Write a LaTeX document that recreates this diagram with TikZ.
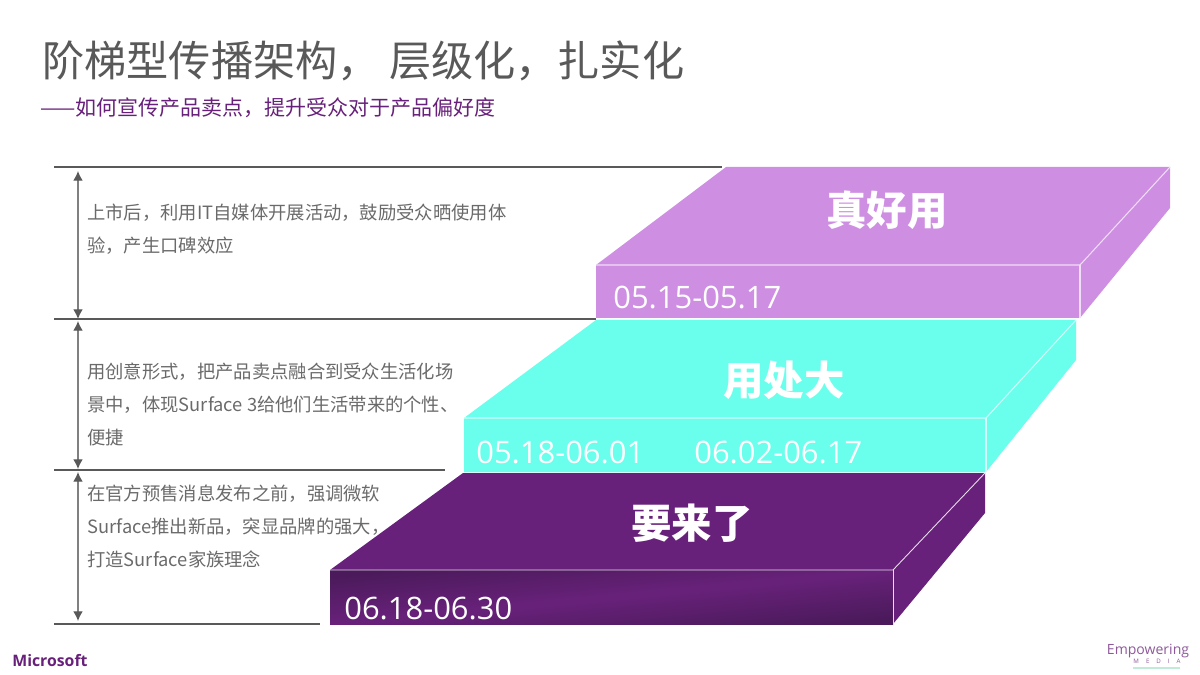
\documentclass[tikz,border=0pt]{standalone}
\usepackage{fontspec}
\setmainfont{Noto Sans CJK SC}
\newfontfamily\latinfont{Open Sans}
\usetikzlibrary{positioning}
\usetikzlibrary{arrows.meta}
\definecolor{slabtop}{HTML}{CE8FE2}
\definecolor{slabmid}{HTML}{6AFFEC}
\definecolor{slablow}{HTML}{68217A}
\definecolor{slabdark}{HTML}{4A1A5A}
\definecolor{textgray}{HTML}{6A6A6A}
\definecolor{rulegray}{HTML}{595959}
\definecolor{logogreen}{HTML}{BFEBD8}
\tikzset{
    facetop/.style={fill=slabtop},
    facemid/.style={fill=slabmid},
    facelow/.style={fill=slablow},
    ridgetop/.style={draw=white!70!slabtop,line width=0.6pt},
    ridgemid/.style={draw=white!70!slabmid,line width=0.6pt},
    ridgelow/.style={draw=white!85!slablow,line width=0.5pt},
    bodytext/.style={anchor=north west,inner sep=0,align=left,text=textgray,font=\fontsize{10.42}{18.7}\selectfont},
    slabtitle/.style={text=white,inner sep=0,font=\fontsize{23}{25}\selectfont\bfseries},
    slabdate/.style={anchor=west,text=white,inner sep=0,font=\latinfont\fontsize{17.6}{20}\selectfont},
    tierline/.style={draw=rulegray,line width=0.6pt},
    spanarrow/.style={draw=gray,line width=0.7pt,{Latex[length=5.5pt,width=5.5pt,color=rulegray]}-{Latex[length=5.5pt,width=5.5pt,color=rulegray]}}
}
\begin{document}
\begin{tikzpicture}[x=0.02cm,y=-0.02cm]
    \useasboundingbox (0,0) rectangle (1200,675);

    % title
    \node (title) [anchor=west,inner sep=0,text=rulegray,font=\fontsize{24}{26}\selectfont] at (42,61) {阶梯型传播架构， 层级化，扎实化};
    \node (subtitle) [anchor=west,inner sep=0,text=slablow,font=\fontsize{11.95}{14}\selectfont] at (40,108) {——如何宣传产品卖点，提升受众对于产品偏好度};

    % tier lines
    \coordinate (lineA) at (54,167);
    \coordinate (lineAend) at (722,167);
    \coordinate (lineB) at (54,319);
    \coordinate (lineBend) at (596,319);
    \coordinate (lineC) at (54,470);
    \coordinate (lineCend) at (445,470);
    \coordinate (lineD) at (54,624);
    \coordinate (lineDend) at (320,624);
    \draw[tierline] (lineA) -- (lineAend);
    \draw[tierline] (lineB) -- (lineBend);
    \draw[tierline] (lineC) -- (lineCend);
    \draw[tierline] (lineD) -- (lineDend);

    % span arrows
    \coordinate (spanA) at (78,171);
    \coordinate (spanB) at (78,319);
    \coordinate (spanC) at (78,321);
    \coordinate (spanD) at (78,469);
    \coordinate (spanE) at (78,472);
    \coordinate (spanF) at (78,621);
    \draw[spanarrow] (spanA) -- (spanB);
    \draw[spanarrow] (spanC) -- (spanD);
    \draw[spanarrow] (spanE) -- (spanF);

    % body texts
    \node (textA) [bodytext] at (87,204) {上市后，利用IT自媒体开展活动，鼓励受众晒使用体\\验，产生口碑效应};
    \node (textB) [bodytext] at (87,363) {用创意形式，把产品卖点融合到受众生活化场\\景中，体现Surface 3给他们生活带来的个性、\\便捷};
    \node (textC) [bodytext] at (87,485) {在官方预售消息发布之前，强调微软\\Surface推出新品，突显品牌的强大，\\打造Surface家族理念};

    % top slab
    \path[facetop] (726,167) -- (1170,167) -- (1170,208) -- (1080,318) -- (596,318) -- (596,265) -- cycle;
    \path[ridgetop] (596,265) -- (1080,265) -- (1170,167);
    \path[ridgetop] (1080,265) -- (1080,318);
    % middle slab
    \path[facemid] (596,320) -- (1076,320) -- (1076,360) -- (986,472) -- (464,472) -- (464,418) -- cycle;
    \path[ridgemid] (464,418) -- (986,418) -- (1076,320);
    \path[ridgemid] (986,418) -- (986,472);
    % bottom slab
    \path[facelow] (463,473) -- (985,473) -- (985,513) -- (893,624) -- (893,570) -- (330,570) -- cycle;
    \path[top color=slabdark,bottom color=slabdark,middle color=slablow,shading angle=5.5] (330,570) -- (893,570) -- (893,624) -- (330,624) -- cycle;
    \path[ridgelow] (330,570) -- (893,570) -- (985,473);
    \path[ridgelow] (893,570) -- (893,624);
    \draw[white!75!slabmid,line width=0.5pt] (464,472.5) -- (985,472.5);

    % slab labels
    \node (nameA) [slabtitle] at (887,210) {真好用};
    \node (nameB) [slabtitle] at (784,380) {用处大};
    \node (nameC) [slabtitle] at (692,523) {要来了};
    \node (dateA) [slabdate] at (613,298) {05.15-05.17};
    \node (dateB) [slabdate] at (476,453) {05.18-06.01};
    \node (dateC) [slabdate] at (694,453) {06.02-06.17};
    \node (dateD) [slabdate] at (344,609) {06.18-06.30};

    % logos
    \node (microsoft) [anchor=west,inner sep=0,text=slablow,font=\latinfont\fontsize{9}{10}\selectfont\bfseries] at (12,661) {Microsoft};
    \node (empowering) [anchor=center,inner sep=0,text=slablow!75,font=\latinfont\fontsize{8}{9}\selectfont] at (1148,651) {Empowering};
    \node (media) [inner sep=0,text=slablow!75,font=\latinfont\fontsize{3.5}{4}\selectfont] at (1157,661) {M\hspace{4pt}E\hspace{4pt}D\hspace{4pt}I\hspace{4pt}A};
    \fill[logogreen] (1133,667) rectangle (1180,669);
\end{tikzpicture}
\end{document}
